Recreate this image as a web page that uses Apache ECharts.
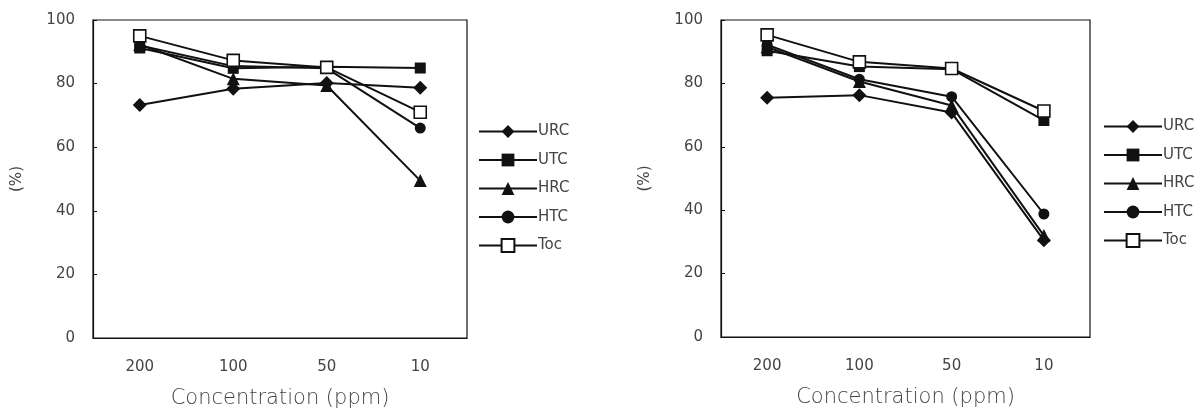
<!DOCTYPE html>
<html>
<head>
<meta charset="utf-8">
<script src="https://cdn.jsdelivr.net/npm/echarts@6/dist/echarts.min.js"></script>
<style>
  html, body { margin: 0; padding: 0; background: #fff; }
  #chart { width: 1200px; height: 408px; }
</style>
</head>
<body>
<div id="chart"></div>
<script>
// categories on the x axis (concentration, ppm)
const categories = ['200', '100', '50', '10'];
const seriesNames = ['URC', 'UTC', 'HRC', 'HTC', 'Toc'];
const yTicks = [0, 20, 40, 60, 80, 100];

// left panel
const urcA = [73.3, 78.4, 80.2, 78.7];
const utcA = [91.2, 84.8, 85.3, 84.9];
const hrcA = [92.3, 81.5, 79.4, 49.5];
const htcA = [92.0, 85.5, 84.8, 66.0];
const tocA = [95.0, 87.3, 85.1, 71.0];

// right panel
const urcB = [75.5, 76.3, 70.8, 30.5];
const utcB = [90.3, 85.3, 84.5, 68.3];
const hrcB = [91.5, 80.6, 73.0, 32.0];
const htcB = [92.2, 81.3, 75.8, 38.8];
const tocB = [95.3, 86.8, 84.7, 71.3];

const lineColor = '#111';
const fontColor = '#444';
const font = 'DejaVu Sans';

const symbols = {
  URC: { symbol: 'diamond', size: 14 },
  UTC: { symbol: 'rect', size: 11 },
  HRC: { symbol: 'triangle', size: 13 },
  HTC: { symbol: 'circle', size: 11 },
  Toc: { symbol: 'rect', size: 12 }
};

const makeSeries = (name, data, idx) => {
  const s = symbols[name];
  const hollow = name === 'Toc';
  return {
    name: name,
    type: 'line',
    xAxisIndex: idx,
    yAxisIndex: idx,
    data: data,
    symbol: s.symbol,
    symbolSize: s.size,
    showAllSymbol: true,
    lineStyle: { color: lineColor, width: 2 },
    itemStyle: {
      color: hollow ? '#fff' : lineColor,
      borderColor: lineColor,
      borderWidth: hollow ? 1.6 : 0
    },
    emphasis: { disabled: true },
    animation: false
  };
};

const makeX = (idx) => ({
  type: 'category',
  gridIndex: idx,
  data: categories,
  name: 'Concentration (ppm)',
  nameLocation: 'middle',
  nameGap: 50,
  nameTextStyle: { color: fontColor, fontSize: 21, fontFamily: font, fontWeight: 'lighter' },
  axisLine: { lineStyle: { color: lineColor, width: 1.2 } },
  axisTick: { inside: true, length: 4, lineStyle: { color: lineColor } },
  axisLabel: { color: fontColor, fontSize: 15, fontFamily: font, margin: 22 },
  splitLine: { show: false }
});

const makeY = (idx) => ({
  type: 'value',
  gridIndex: idx,
  min: yTicks[0],
  max: yTicks[yTicks.length - 1],
  interval: 20,
  name: '(%)',
  nameLocation: 'middle',
  nameGap: 68,
  nameRotate: 90,
  nameTextStyle: { color: fontColor, fontSize: 15, fontFamily: font },
  axisLine: { show: true, lineStyle: { color: lineColor, width: 1.2 } },
  axisTick: { show: true, inside: true, length: 4, lineStyle: { color: lineColor } },
  axisLabel: { color: fontColor, fontSize: 15, fontFamily: font, margin: 18 },
  splitLine: { show: false }
});

const makeLegend = (left, top) => ({
  orient: 'vertical',
  left: left,
  top: top,
  padding: 0,
  data: seriesNames,
  itemWidth: 58,
  itemHeight: 16,
  itemGap: 13.5,
  selectedMode: false,
  textStyle: { color: fontColor, fontSize: 15, fontFamily: font, padding: [0, 0, 0, -4] }
});

const targetChart = echarts.init(document.getElementById('chart'), null, { renderer: 'canvas' });

const option = {
  backgroundColor: '#fff',
  animation: false,
  grid: [
    { left: 93, top: 20, width: 374, height: 318, outerBoundsMode: 'none', show: true, borderColor: lineColor, borderWidth: 1.2 },
    { left: 721, top: 20, width: 369, height: 317, outerBoundsMode: 'none', show: true, borderColor: lineColor, borderWidth: 1.2 }
  ],
  xAxis: [makeX(0), makeX(1)],
  yAxis: [makeY(0), makeY(1)],
  legend: [makeLegend(478, 124), makeLegend(1103, 119)],
  series: [
    makeSeries('URC', urcA, 0),
    makeSeries('UTC', utcA, 0),
    makeSeries('HRC', hrcA, 0),
    makeSeries('HTC', htcA, 0),
    makeSeries('Toc', tocA, 0),
    makeSeries('URC', urcB, 1),
    makeSeries('UTC', utcB, 1),
    makeSeries('HRC', hrcB, 1),
    makeSeries('HTC', htcB, 1),
    makeSeries('Toc', tocB, 1)
  ]
};

targetChart.setOption(option);
</script>
</body>
</html>
